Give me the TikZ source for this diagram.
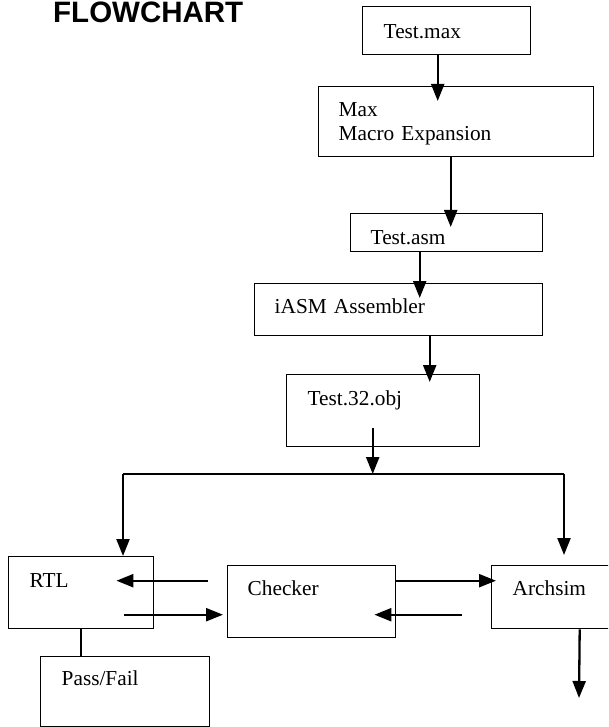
\documentclass[tikz,border=0pt]{standalone}
\usepackage{fontspec}
\setmainfont{Liberation Serif}
\newfontfamily\titlefont{Liberation Sans}
\usepackage{tikz}
\usetikzlibrary{arrows.meta}

\begin{document}
\begin{tikzpicture}[
    x=1pt, y=-1pt,
    blk/.style={draw, line width=1.4pt, anchor=north west, align=left, inner ysep=0pt,
        font=\fontsize{21.3pt}{24pt}\selectfont},
    arr/.style={line width=2.3pt, -{Triangle[length=17pt, width=13pt]}},
    lnk/.style={line width=1.4pt}
]
\useasboundingbox (0,0) rectangle (608,727);
\clip (0,0) rectangle (608,727);

% Titel
\node[anchor=base west, inner sep=0pt, font=\titlefont\bfseries\fontsize{29.5pt}{30pt}\selectfont] (title) at (53,23) {FLOWCHART};

% Dateien und Werkzeuge
\node[blk, inner xsep=21pt, text width=126pt, text height=32pt, text depth=16pt] (max) at (362,6) {Test.max};
\node[blk, inner xsep=20pt, text width=235pt, text height=30pt, text depth=40pt] (mac) at (318,86) {Max\\Macro Expansion};
\node[blk, inner xsep=20pt, text width=152pt, text height=31pt, text depth=7pt] (asm) at (350,213) {Test.asm};
\node[blk, inner xsep=20pt, text width=248pt, text height=30pt, text depth=22pt] (iasm) at (254,283) {iASM Assembler};
\node[blk, inner xsep=21pt, text width=151pt, text height=31pt, text depth=41pt] (obj) at (286,374) {Test.32.obj};

% Simulation
\node[blk, inner xsep=21pt, text width=103pt, text height=31pt, text depth=41pt] (rtl) at (8,556) {RTL};
\node[blk, inner xsep=20pt, text width=128pt, text height=30pt, text depth=42pt] (chk) at (227,565) {Checker};
\node[blk, inner xsep=21pt, text width=87pt, text height=30pt, text depth=33pt] (arch) at (491,565) {Archsim};
\node[blk, inner xsep=21pt, text width=127pt, text height=29pt, text depth=41pt] (pf) at (40,656) {Pass/Fail};

% Verzweigung
\coordinate (sl) at (123,474);
\coordinate (sr) at (564,474);
\coordinate (archout) at (579,698);

% Pfeile nach unten
\draw[arr, shorten >=-15pt] ([xshift=-9pt]max.south) -- ([xshift=-9pt]max.south |- mac.north);
\draw[arr, shorten >=-14pt] ([xshift=-5.5pt]mac.south) -- ([xshift=-5.5pt]mac.south |- asm.north);
\draw[arr, shorten >=-15pt] ([xshift=-27pt]asm.south) -- ([xshift=-27pt]asm.south |- iasm.north);
\draw[arr, shorten >=-8pt] ([xshift=31pt]iasm.south) -- ([xshift=31pt]iasm.south |- obj.north);
\draw[arr] ([xshift=-10.5pt, yshift=19pt]obj.south) -- ([xshift=-10.5pt]obj.south |- sl);

\draw[lnk] (sl) -- (sr);
\draw[arr] (sl) -- (sl |- rtl.north);
\draw[arr, shorten >=10pt] (sr) -- (sr |- arch.north);

% Vergleich
\draw[arr] ([xshift=-19pt, yshift=21pt]chk.west) -- ([xshift=-38pt, yshift=12pt]rtl.east);
\draw[arr, shorten >=4pt] ([xshift=-30pt, yshift=-22pt]rtl.east) -- ([yshift=-13pt]chk.west);
\draw[arr, shorten >=-5pt] ([yshift=21pt]chk.east) -- ([yshift=21pt]chk.east -| arch.west);
\draw[arr, shorten >=-22pt] ([xshift=-29pt, yshift=-17.5pt]arch.west) -- ([yshift=-13pt]chk.east);
\draw[arr] ([xshift=23.5pt]arch.south) -- (archout);

\draw[lnk, line width=2pt] (rtl.south) -- (rtl.south |- pf.north);

\end{tikzpicture}
\end{document}
